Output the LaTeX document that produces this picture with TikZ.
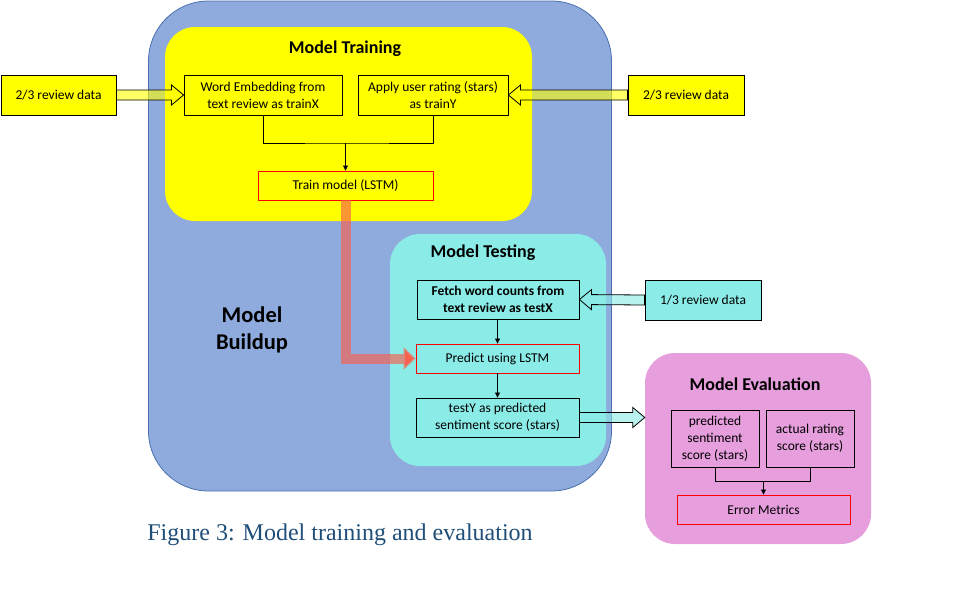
\documentclass[tikz,border=0pt]{standalone}
\usepackage{fontspec}
\setmainfont{Carlito}
\newfontfamily\captionfont{Liberation Serif}
\usetikzlibrary{arrows.meta,calc}

\definecolor{buildblue}{HTML}{8FAADC}
\definecolor{buildedge}{HTML}{4A6FB0}
\definecolor{trainyellow}{HTML}{FFFF00}
\definecolor{testcyan}{HTML}{8BEBE6}
\definecolor{evalpink}{HTML}{E69EDD}
\definecolor{lstmred}{HTML}{F9604E}
\definecolor{captionblue}{HTML}{1F4E79}

% wide hollow arrow between two points: [style]{from}{to}
\newcommand{\blockarrow}[3][]{%
  \coordinate (ba-s) at (#2);
  \coordinate (ba-e) at (#3);
  \coordinate (ba-h) at ($(ba-e)!12pt!(ba-s)$);
  \draw[blockarrow,#1] ($(ba-s)!5pt!90:(ba-e)$) -- ($(ba-h)!5pt!-90:(ba-s)$)
    -- ($(ba-h)!10pt!-90:(ba-s)$) -- (ba-e) -- ($(ba-h)!10pt!90:(ba-s)$)
    -- ($(ba-h)!5pt!90:(ba-s)$) -- ($(ba-s)!5pt!-90:(ba-e)$) -- cycle;
}

\begin{document}
\begin{tikzpicture}[x=1pt, y=-1pt,
    zone/.style={inner sep=0pt, draw=none},
    title/.style={font=\fontsize{18}{21}\selectfont\bfseries},
    box/.style={draw=black, line width=0.9pt, inner sep=0pt, align=center,
      font=\fontsize{13.5}{17}\selectfont},
    redbox/.style={box, draw=red},
    link/.style={line width=0.8pt, -{Triangle[length=5pt,width=5pt]}},
    blockarrow/.style={draw=black, line width=0.8pt, fill opacity=0.6, line join=miter},
    modelflow/.style={line width=10pt, draw=lstmred, draw opacity=0.65,
      -{Triangle[length=12pt,width=22pt]}}]

    \useasboundingbox (0,0) rectangle (958,590);

    % Zones
    \node[zone, fill=buildblue, draw=buildedge, line width=0.8pt, rounded corners=60pt,
      minimum width=463pt, minimum height=490pt] (buildup) at (380,246) {};
    \node[zone, fill=trainyellow, rounded corners=30pt,
      minimum width=367pt, minimum height=194pt] (trainzone) at (348.5,124) {};
    \node[zone, fill=testcyan, rounded corners=30pt,
      minimum width=216pt, minimum height=232pt] (testzone) at (498,350) {};
    \node[zone, fill=evalpink, rounded corners=30pt,
      minimum width=226pt, minimum height=191pt] (evalzone) at (758,448.5) {};

    % Zone titles
    \node[title] (traintitle) at (345,49) {Model Training};
    \node[title] (testtitle) at (483,253) {Model Testing};
    \node[title] (evaltitle) at (755,384) {Model Evaluation};
    \node[align=center, font=\fontsize{22.5}{27}\selectfont\bfseries] (buildtitle) at (252,330) {Model\\Buildup};

    % Model training
    \node[box, fill=trainyellow, minimum width=158pt, minimum height=40pt] (embed) at (263,95)
      {Word Embedding from\\text review as trainX};
    \node[box, fill=trainyellow, minimum width=150pt, minimum height=40pt] (rating) at (433,95)
      {Apply user rating (stars)\\as trainY};
    \node[redbox, fill=trainyellow, minimum width=175pt, minimum height=29pt] (train) at (345.5,185.5)
      {Train model (LSTM)};
    \node[box, fill=trainyellow, minimum width=115pt, minimum height=40pt] (trainleft) at (58.5,95)
      {2/3 review data};
    \node[box, fill=trainyellow, minimum width=116pt, minimum height=40pt] (trainright) at (686,95)
      {2/3 review data};

    \coordinate (trainjoin) at (345.5,143);
    \draw[line width=0.8pt] (embed.south) |- (trainjoin) -| (rating.south);
    \draw[link] (trainjoin) -- (train.north);
    \blockarrow[fill=trainyellow]{trainleft.east}{embed.west}
    \blockarrow[fill=trainyellow]{trainright.west}{rating.east}

    % Model testing
    \node[box, fill=testcyan, minimum width=162pt, minimum height=39pt, font=\fontsize{13.5}{17}\selectfont\bfseries] (fetch) at (498,299.5)
      {Fetch word counts from\\text review as testX};
    \node[redbox, fill=testcyan, minimum width=163pt, minimum height=29pt] (predict) at (497.5,358.5)
      {Predict using LSTM};
    \node[box, fill=testcyan, minimum width=163pt, minimum height=39pt] (testy) at (497.5,417.5)
      {testY as predicted\\sentiment score (stars)};
    \node[box, fill=testcyan, minimum width=116pt, minimum height=40pt] (testright) at (703,300)
      {1/3 review data};

    \draw[link] (fetch.south -| predict.north) -- (predict.north);
    \draw[link] (predict.south) -- (testy.north);
    \blockarrow[fill=testcyan]{testright.west}{fetch.east}

    % Trained model goes to prediction
    \draw[modelflow] (train.south) |- (predict.west);

    % Model evaluation
    \node[box, fill=evalpink, minimum width=88pt, minimum height=57pt] (predscore) at (715,438.5)
      {predicted\\sentiment\\score (stars)};
    \node[box, fill=evalpink, minimum width=88pt, minimum height=57pt] (actual) at (810,438.5)
      {actual rating\\score (stars)};
    \node[redbox, fill=evalpink, minimum width=173pt, minimum height=29pt] (error) at (763.5,509.5)
      {Error Metrics};

    \coordinate (evaljoin) at (763.5,481);
    \draw[line width=0.8pt] (predscore.south) |- (evaljoin) -| (actual.south);
    \draw[link] (evaljoin) -- (error.north);
    \blockarrow[fill=testcyan]{testy.east}{testy.east -| evalzone.west}

    % Caption
    \node[font=\captionfont\fontsize{24}{28}\selectfont, text=captionblue] (caption) at (340,535)
      {Figure 3: Model training and evaluation};
\end{tikzpicture}
\end{document}
